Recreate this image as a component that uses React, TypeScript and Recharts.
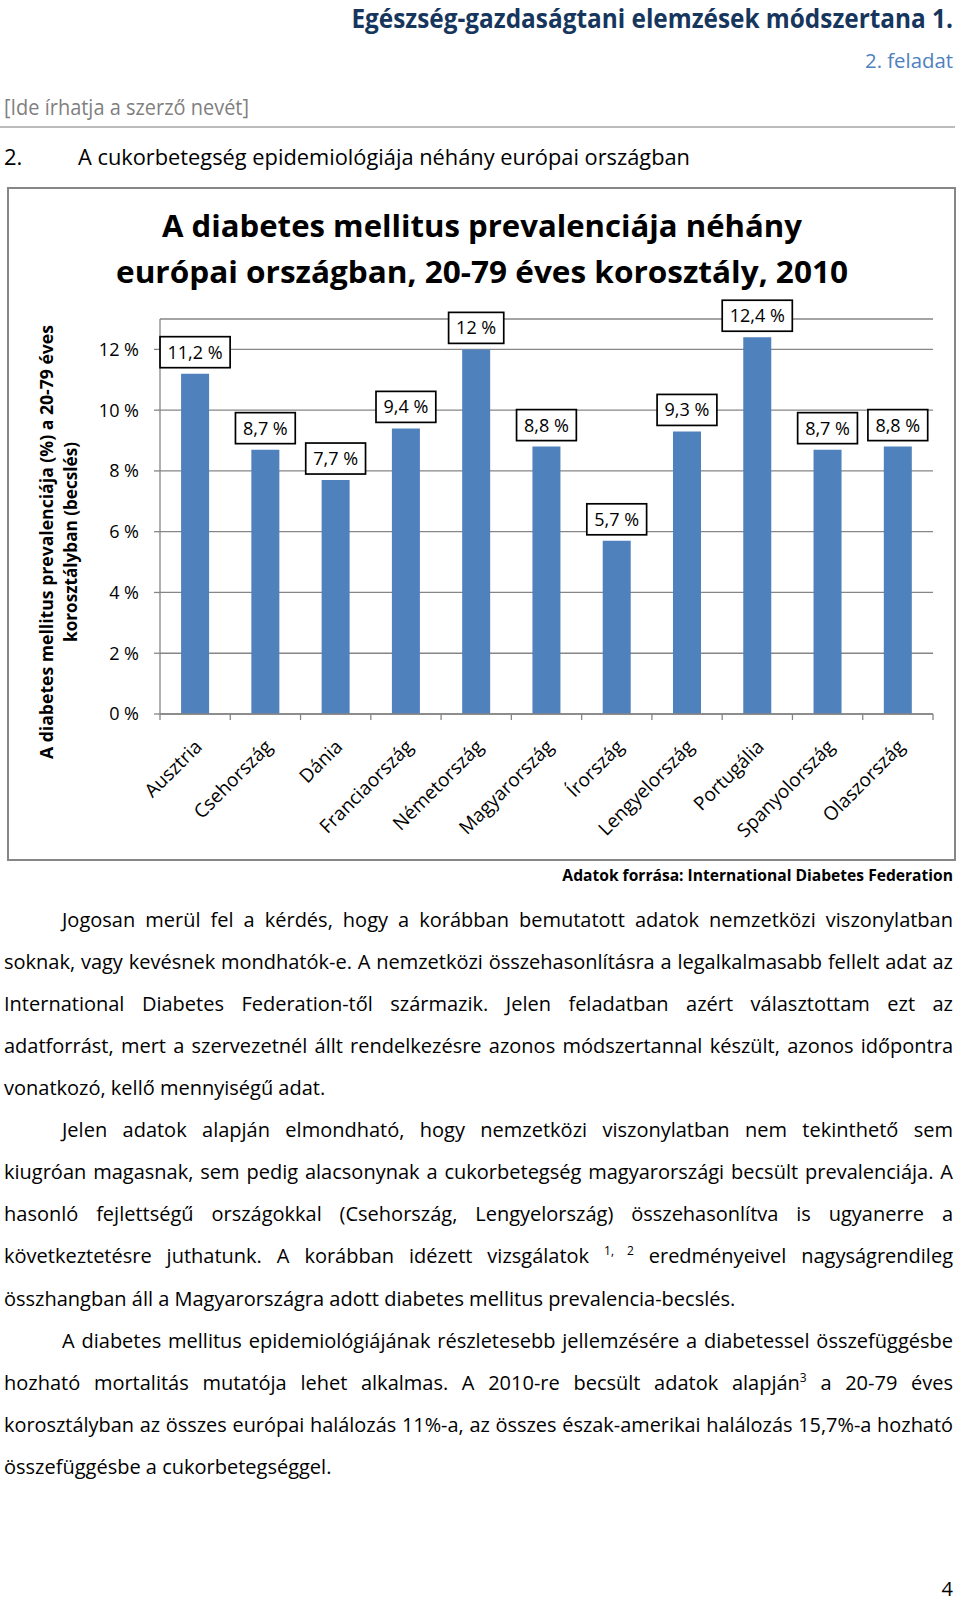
import React from 'react';
import { BarChart, Bar, XAxis, YAxis, CartesianGrid, LabelList } from 'recharts';

const countries = [
  'Ausztria',
  'Csehország',
  'Dánia',
  'Franciaország',
  'Németország',
  'Magyarország',
  'Írország',
  'Lengyelország',
  'Portugália',
  'Spanyolország',
  'Olaszország',
];
const prevalence = [11.2, 8.7, 7.7, 9.4, 12, 8.8, 5.7, 9.3, 12.4, 8.7, 8.8];
const yTicks = [0, 2, 4, 6, 8, 10, 12];

const titleLines = [
  'A diabetes mellitus prevalenciája néhány',
  'európai országban, 20-79 éves korosztály, 2010',
];
const yTitleLines = ['A diabetes mellitus prevalenciája (%) a 20-79 éves', 'korosztályban (becslés)'];

type Part = { t: string; sup?: boolean };
type BodyLineDef = { indent?: boolean; justify: boolean; parts: Part[] };

const bodyLines: BodyLineDef[] = [
  { indent: true, justify: true, parts: [{ t: 'Jogosan merül fel a kérdés, hogy a korábban bemutatott adatok nemzetközi viszonylatban' }] },
  { justify: true, parts: [{ t: 'soknak, vagy kevésnek mondhatók-e. A nemzetközi összehasonlításra a legalkalmasabb fellelt adat az' }] },
  { justify: true, parts: [{ t: 'International Diabetes Federation-től származik. Jelen feladatban azért választottam ezt az' }] },
  { justify: true, parts: [{ t: 'adatforrást, mert a szervezetnél állt rendelkezésre azonos módszertannal készült, azonos időpontra' }] },
  { justify: false, parts: [{ t: 'vonatkozó, kellő mennyiségű adat.' }] },
  { indent: true, justify: true, parts: [{ t: 'Jelen adatok alapján elmondható, hogy nemzetközi viszonylatban nem tekinthető sem' }] },
  { justify: true, parts: [{ t: 'kiugróan magasnak, sem pedig alacsonynak a cukorbetegség magyarországi becsült prevalenciája. A' }] },
  { justify: true, parts: [{ t: 'hasonló fejlettségű országokkal (Csehország, Lengyelország) összehasonlítva is ugyanerre a' }] },
  {
    justify: true,
    parts: [
      { t: 'következtetésre juthatunk. A korábban idézett vizsgálatok ' },
      { t: '1, 2', sup: true },
      { t: ' eredményeivel nagyságrendileg' },
    ],
  },
  { justify: false, parts: [{ t: 'összhangban áll a Magyarországra adott diabetes mellitus prevalencia-becslés.' }] },
  { indent: true, justify: true, parts: [{ t: 'A diabetes mellitus epidemiológiájának részletesebb jellemzésére a diabetessel összefüggésbe' }] },
  {
    justify: true,
    parts: [
      { t: 'hozható mortalitás mutatója lehet alkalmas. A 2010-re becsült adatok alapján' },
      { t: '3', sup: true },
      { t: ' a 20-79 éves' },
    ],
  },
  { justify: true, parts: [{ t: 'korosztályban az összes európai halálozás 11%-a, az összes észak-amerikai halálozás 15,7%-a hozható' }] },
  { justify: false, parts: [{ t: 'összefüggésbe a cukorbetegséggel.' }] },
];

const FONT = "'Open Sans', 'Noto Sans', sans-serif";
const GRID = '#868686';
const BAR = '#4F81BD';

// chart frame (page coords)
const CHART_X = 7;
const CHART_Y = 187;
const CHART_W = 949;
const CHART_H = 674;
const Y_AXIS_W = 153;
const RIGHT = 23;
const PLOT_W = CHART_W - Y_AXIS_W - RIGHT;

const BODY_TOP = 922;
const BODY_STEP = 42.1;

let ctx: CanvasRenderingContext2D | null = null;
function textWidth(s: string, size: number, weight = 'normal') {
  if (!ctx) ctx = document.createElement('canvas').getContext('2d');
  if (!ctx) return s.length * size * 0.55;
  ctx.font = `${weight} ${size}px "Open Sans"`;
  return ctx.measureText(s).width;
}

const fmt = (v: number) => `${String(v).replace('.', ',')} %`;

// text squeezed horizontally to a target width, right-aligned at x
function FitText({ x, y, size, bold, fill, width, children }: any) {
  const natural = textWidth(children, size, bold ? 'bold' : 'normal');
  const k = natural > 0 ? width / natural : 1;
  return (
    <text
      transform={`translate(${x},${y}) scale(${k},1)`}
      textAnchor="end"
      fontSize={size}
      fontWeight={bold ? 'bold' : 'normal'}
      fill={fill}
    >
      {children}
    </text>
  );
}

function CountryTick(props: any) {
  const { x, y, payload } = props;
  const i = countries.indexOf(payload.value);
  const half = PLOT_W / countries.length / 2;
  return (
    <g>
      <line x1={x - half} x2={x - half} y1={y} y2={y + 6} stroke={GRID} strokeWidth={1.3} />
      {i === countries.length - 1 && (
        <line x1={x + half} x2={x + half} y1={y} y2={y + 6} stroke={GRID} strokeWidth={1.3} />
      )}
      <text
        transform={`translate(${x + 8},${y + 34}) rotate(-45)`}
        textAnchor="end"
        fontSize={19}
        fontFamily={FONT}
        fill="#000"
      >
        {payload.value}
      </text>
    </g>
  );
}

function ValueLabel(props: any) {
  const { x, y, width, value } = props;
  const txt = fmt(Number(value));
  const w = textWidth(txt, 18) + 15;
  const h = 31;
  const cx = Number(x) + Number(width) / 2;
  const top = Number(y) - 6 - h;
  return (
    <g>
      <rect x={cx - w / 2} y={top} width={w} height={h} fill="#fff" stroke="#000" strokeWidth={1.7} />
      <text x={cx} y={top + h / 2 + 6.5} textAnchor="middle" fontSize={18} fontFamily={FONT} fill="#000">
        {txt}
      </text>
    </g>
  );
}

function BodyLine({ line, index }: { line: BodyLineDef; index: number }) {
  const left = line.indent ? 62 : 4;
  const avail = 953 - left;
  const natural = line.parts.reduce((w, p) => w + textWidth(p.t, p.sup ? 12 : 20), 0);
  const s = Math.min(1, avail / (natural + 6));
  const top = BODY_TOP + index * BODY_STEP - 16.4;
  const align = line.justify ? 'justify' : 'left';
  return (
    <div
      style={{
        position: 'absolute',
        left,
        top,
        width: avail / s,
        transform: `scaleX(${s})`,
        transformOrigin: '0 0',
        fontSize: 20,
        lineHeight: '28px',
        textAlign: align as any,
        textAlignLast: align as any,
        color: '#000',
      }}
    >
      {line.parts.map((p, k) =>
        p.sup ? (
          <sup key={k} style={{ fontSize: 12, lineHeight: 0, verticalAlign: 'super' }}>
            {p.t}
          </sup>
        ) : (
          <span key={k}>{p.t}</span>
        )
      )}
    </div>
  );
}

export default function App() {
  const data = countries.map((name, i) => ({ name, value: prevalence[i] }));

  return (
    <div
      style={{
        position: 'absolute',
        left: 0,
        top: 0,
        width: 960,
        height: 1603,
        background: '#fff',
        fontFamily: FONT,
        overflow: 'hidden',
      }}
    >
      {/* chart frame */}
      <div
        style={{
          position: 'absolute',
          left: CHART_X,
          top: CHART_Y,
          width: CHART_W,
          height: CHART_H,
          border: `2px solid ${GRID}`,
          boxSizing: 'border-box',
        }}
      />
      <div style={{ position: 'absolute', left: CHART_X, top: CHART_Y }}>
        <BarChart
          width={CHART_W}
          height={CHART_H}
          data={data}
          margin={{ top: 132, right: RIGHT, left: 0, bottom: 0 }}
          barCategoryGap="30%"
        >
          <CartesianGrid vertical={false} stroke={GRID} strokeWidth={1.3} />
          <XAxis
            dataKey="name"
            height={147}
            interval={0}
            axisLine={{ stroke: GRID, strokeWidth: 1.3 }}
            tickLine={false}
            tickSize={0}
            tickMargin={0}
            tick={<CountryTick />}
          />
          <YAxis
            width={Y_AXIS_W}
            domain={[0, 13]}
            ticks={yTicks}
            interval={0}
            tickFormatter={(v: number) => `${v} %`}
            axisLine={{ stroke: GRID, strokeWidth: 1.3 }}
            tickLine={{ stroke: GRID, strokeWidth: 1.3 }}
            tickSize={6}
            tickMargin={15}
            tick={{ fontSize: 18, fill: '#000', fontFamily: FONT }}
          />
          <Bar dataKey="value" fill={BAR} isAnimationActive={false}>
            <LabelList dataKey="value" content={ValueLabel} />
          </Bar>
        </BarChart>
      </div>

      {/* page and chart texts */}
      <svg
        width={960}
        height={1603}
        style={{ position: 'absolute', left: 0, top: 0, pointerEvents: 'none' }}
        fontFamily={FONT}
      >
        <FitText x={953} y={28} size={26} bold fill="#17365D" width={602}>
          Egészség-gazdaságtani elemzések módszertana 1.
        </FitText>
        <text x={953} y={68} textAnchor="end" fontSize={20} fill="#4F81BD" textLength={88} lengthAdjust="spacingAndGlyphs">
          2. feladat
        </text>
        <text x={4} y={115} fontSize={22} fill="#7F7F7F" textLength={245} lengthAdjust="spacingAndGlyphs">
          [Ide írhatja a szerző nevét]
        </text>
        <line x1={0} x2={955} y1={127} y2={127} stroke="#A6A6A6" strokeWidth={1.3} />
        <text x={4} y={165} fontSize={22} fill="#000">
          2.
        </text>
        <text x={78} y={165} fontSize={22} fill="#000" textLength={612} lengthAdjust="spacingAndGlyphs">
          A cukorbetegség epidemiológiája néhány európai országban
        </text>

        {titleLines.map((t, i) => (
          <text
            key={t}
            x={482}
            y={237 + i * 46}
            textAnchor="middle"
            fontSize={30}
            fontWeight="bold"
            fill="#000"
            textLength={i === 0 ? 640 : 732}
            lengthAdjust="spacingAndGlyphs"
          >
            {t}
          </text>
        ))}
        {yTitleLines.map((t, i) => (
          <text
            key={t}
            transform={`translate(${53 + i * 24},542) rotate(-90)`}
            textAnchor="middle"
            fontSize={17}
            fontWeight="bold"
            fill="#000"
            textLength={i === 0 ? 434 : 200}
            lengthAdjust="spacingAndGlyphs"
          >
            {t}
          </text>
        ))}

        <FitText x={953} y={881} size={16} bold fill="#000" width={391}>
          Adatok forrása: International Diabetes Federation
        </FitText>
        <text x={953} y={1596} textAnchor="end" fontSize={20} fill="#000">
          4
        </text>
      </svg>

      {bodyLines.map((line, i) => (
        <BodyLine key={i} line={line} index={i} />
      ))}
    </div>
  );
}
